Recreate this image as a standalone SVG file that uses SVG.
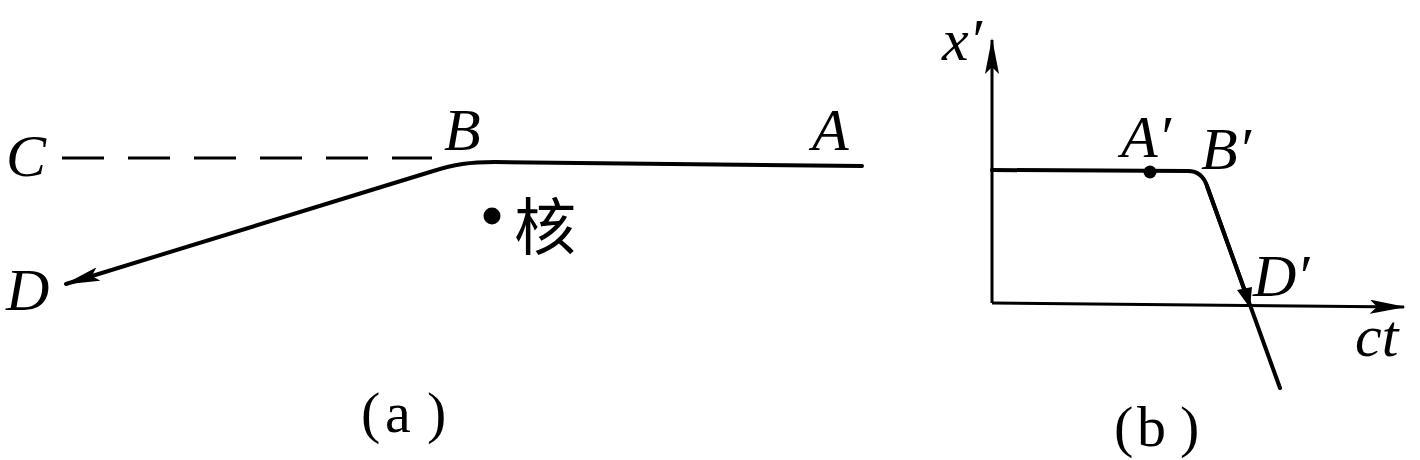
<svg xmlns="http://www.w3.org/2000/svg" width="1420" height="460" viewBox="0 0 1420 460">
<defs>
<style>
.lbl{font-family:"Liberation Serif","Times New Roman",serif;font-style:italic;font-size:60px;fill:#000}
.cap{font-family:"Liberation Serif","Times New Roman",serif;font-size:58px;fill:#000}
.cjk{font-family:"Noto Sans CJK SC",sans-serif;font-size:62px;fill:#000}
.ln{fill:none;stroke:#000;stroke-width:4;stroke-linecap:round;stroke-linejoin:round}
.ax{fill:none;stroke:#000;stroke-width:3}
</style>
<marker id="ah" viewBox="0 0 36 14" refX="34" refY="7" markerWidth="36" markerHeight="14" markerUnits="userSpaceOnUse" orient="auto">
<path d="M0,0 L36,7 L0,14 L7,7 Z" fill="#000"/>
</marker>
</defs>
<rect width="1420" height="460" fill="#fff"/>
<g id="panel-a">
<g id="connectors-a">
<line class="ax" x1="62" y1="158" x2="432" y2="158" stroke-dasharray="42 24"/>
<path class="ln" d="M862 166 L495 162 C470 162 455 164 430 172 L66 284" marker-end="url(#ah)"/>
</g>
<g id="node-C"><text class="lbl" x="6" y="176">C</text></g>
<g id="node-B"><text class="lbl" x="444" y="150">B</text></g>
<g id="node-A"><text class="lbl" x="812" y="150">A</text></g>
<g id="node-D"><text class="lbl" x="6" y="310">D</text></g>
<g id="node-nucleus"><circle cx="492" cy="216" r="8.5" fill="#000"/><text class="cjk" x="514" y="250">核</text></g>
<text class="cap" x="361" y="432">(</text><text class="cap" x="385" y="432">a</text><text class="cap" x="427" y="432">)</text>
</g>
<g id="panel-b">
<g id="connectors-b">
<line class="ax" x1="992" y1="303" x2="992" y2="40" marker-end="url(#ah)"/>
<line class="ax" x1="992" y1="303" x2="1404" y2="307" marker-end="url(#ah)"/>
<path class="ln" d="M992 170 L1188 171 C1198 171 1204 177 1207 186 L1248 300"/>
<path class="ln" d="M1207 186 L1280 388"/>
<path d="M1237 290 L1250 308 L1252 287 Z" fill="#000"/>
</g>
<g id="node-x"><text class="lbl" x="942" y="60">x′</text></g>
<g id="node-Ap"><circle cx="1150" cy="172" r="6.5" fill="#000"/><text class="lbl" x="1121" y="157">A′</text></g>
<g id="node-Bp"><text class="lbl" x="1201" y="169">B′</text></g>
<g id="node-Dp"><text class="lbl" x="1253" y="296">D′</text></g>
<g id="node-ct"><text class="lbl" x="1355" y="356">ct</text></g>
<text class="cap" x="1114" y="446">(</text><text class="cap" x="1137" y="446">b</text><text class="cap" x="1180" y="446">)</text>
</g>
</svg>
